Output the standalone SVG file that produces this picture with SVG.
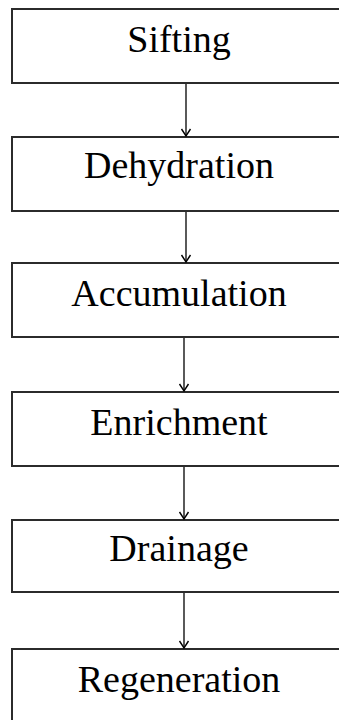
<svg xmlns="http://www.w3.org/2000/svg" width="339" height="720" viewBox="0 0 339 720">
<style>
.box{fill:#fff;stroke:#2b2b2b;stroke-width:2}
.lbl{font-family:"Liberation Serif","Times New Roman",serif;font-size:38px;fill:#000;text-anchor:middle}
.conn{stroke:#000;stroke-width:1.3;fill:none}
</style>
<defs>
<marker id="ah" markerWidth="12" markerHeight="12" refX="10" refY="6" orient="auto" markerUnits="userSpaceOnUse">
<path d="M3,1.5 L10,6 L3,10.5" fill="none" stroke="#000" stroke-width="1.4"/>
</marker>
</defs>
<rect width="339" height="720" fill="#fff"/>
<g id="n1"><rect class="box" x="12" y="9" width="340" height="74"/><text class="lbl" x="179" y="52">Sifting</text></g>
<g id="n2"><rect class="box" x="12" y="137" width="340" height="74"/><text class="lbl" x="179" y="178">Dehydration</text></g>
<g id="n3"><rect class="box" x="12" y="263" width="340" height="74"/><text class="lbl" x="179" y="306">Accumulation</text></g>
<g id="n4"><rect class="box" x="12" y="392" width="340" height="74"/><text class="lbl" x="179" y="435">Enrichment</text></g>
<g id="n5"><rect class="box" x="12" y="520" width="340" height="72"/><text class="lbl" x="179" y="561">Drainage</text></g>
<g id="n6"><rect class="box" x="12" y="649" width="340" height="90"/><text class="lbl" x="179" y="692">Regeneration</text></g>
<g id="connectors">
<line class="conn" x1="186" y1="84" x2="186" y2="136" marker-end="url(#ah)"/>
<line class="conn" x1="186" y1="212" x2="186" y2="262" marker-end="url(#ah)"/>
<line class="conn" x1="184" y1="338" x2="184" y2="391" marker-end="url(#ah)"/>
<line class="conn" x1="184" y1="467" x2="184" y2="519" marker-end="url(#ah)"/>
<line class="conn" x1="184" y1="593" x2="184" y2="648" marker-end="url(#ah)"/>
</g>
</svg>
